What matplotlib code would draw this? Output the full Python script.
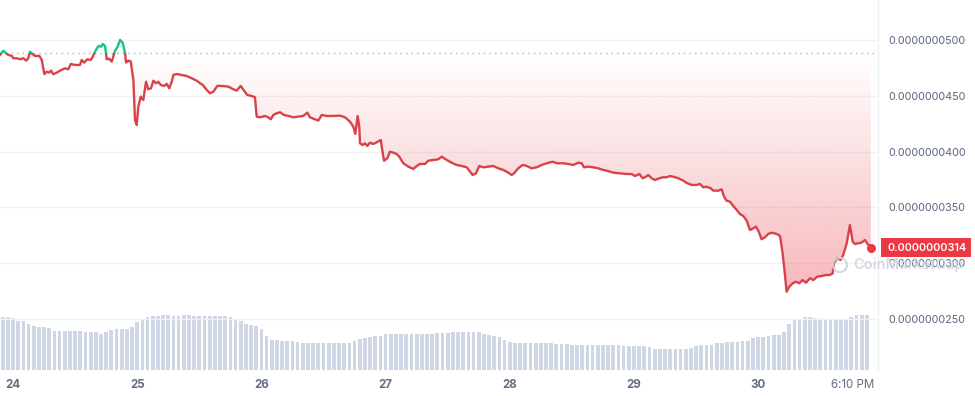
import numpy as np
import matplotlib
matplotlib.use("Agg")
import matplotlib.pyplot as plt
from matplotlib.path import Path
from matplotlib.patches import PathPatch, Rectangle, Circle
from matplotlib.colors import LinearSegmentedColormap
import matplotlib.transforms as mtransforms

# ---------------- data ----------------
# time in days since Apr 24 00:00 (local), price in units of 1e-9
time_days = [
    -0.105, -0.078, -0.056, -0.038, -0.010, 0.002, 0.030, 0.056, 0.083, 0.105,
    0.123, 0.137, 0.155, 0.177, 0.212, 0.231, 0.252, 0.271, 0.290, 0.306,
    0.324, 0.352, 0.378, 0.419, 0.445, 0.465, 0.499, 0.539, 0.553, 0.572,
    0.598, 0.626, 0.642, 0.660, 0.687, 0.709, 0.722, 0.741, 0.754, 0.773,
    0.795, 0.821, 0.840, 0.862, 0.883, 0.902, 0.910, 0.928, 0.948, 0.969,
    0.982, 0.996, 1.009, 1.028,
    1.049, 1.071, 1.089, 1.111, 1.130, 1.151, 1.170, 1.189, 1.216, 1.238,
    1.258, 1.278, 1.291, 1.318, 1.358, 1.399, 1.439, 1.479, 1.506, 1.527,
    1.560, 1.586, 1.613, 1.645, 1.680, 1.733, 1.774, 1.801, 1.833, 1.860,
    1.886, 1.922, 1.948, 1.962, 1.989, 2.029, 2.056, 2.075, 2.096, 2.123,
    2.150, 2.182, 2.217, 2.257, 2.297,
    2.337, 2.370, 2.391, 2.432, 2.458, 2.486, 2.526, 2.579, 2.633, 2.673,
    2.713, 2.740, 2.756, 2.775, 2.788, 2.794, 2.816, 2.834, 2.853, 2.874,
    2.901, 2.933, 2.961, 2.973, 2.987, 3.014, 3.035, 3.062, 3.089, 3.110,
    3.143, 3.183, 3.223, 3.250, 3.277, 3.317, 3.344, 3.384, 3.424, 3.452,
    3.492, 3.532, 3.572, 3.613, 3.653, 3.680, 3.701, 3.728, 3.754, 3.787,
    3.827, 3.867, 3.907, 3.948, 3.988, 4.015, 4.034, 4.068, 4.104, 4.136,
    4.176, 4.217, 4.257, 4.297, 4.345, 4.382, 4.431, 4.471, 4.511, 4.552,
    4.579, 4.597, 4.632, 4.672, 4.713,
    4.753, 4.780, 4.833, 4.887, 4.941, 4.981, 5.008, 5.043, 5.070, 5.097,
    5.115, 5.142, 5.169, 5.204, 5.236, 5.263, 5.290, 5.316, 5.357, 5.397,
    5.429, 5.465, 5.505, 5.531, 5.558, 5.585, 5.618, 5.639, 5.679, 5.706,
    5.725, 5.746, 5.773, 5.800, 5.827, 5.853, 5.880, 5.907,
    5.934, 5.961, 5.982, 6.001, 6.028, 6.055, 6.081, 6.109, 6.149, 6.176,
    6.197, 6.216, 6.229, 6.250, 6.278, 6.304, 6.331, 6.358, 6.385, 6.417,
    6.444, 6.476, 6.511, 6.546, 6.578, 6.600, 6.610, 6.637, 6.664, 6.685,
    6.713, 6.739, 6.761, 6.779, 6.806, 6.833, 6.860, 6.887, 6.908,
]

price_e9 = [
    48.66, 49.04, 48.81, 48.66, 48.57, 48.36, 48.36, 48.27, 48.36, 48.15,
    48.36, 48.95, 48.75, 48.57, 48.57, 48.21, 46.95, 47.16, 47.07, 47.25,
    46.93, 47.07, 47.25, 47.46, 47.37, 47.85, 47.76, 47.76, 48.21, 47.97,
    48.27, 48.21, 48.50, 48.95, 49.46, 49.40, 49.64, 49.46, 48.27, 48.32,
    48.06, 49.04, 49.35, 50.00, 49.76, 48.81, 47.97, 48.15, 48.06, 46.42,
    42.83, 42.38, 44.02, 44.92,
    44.62, 46.26, 45.58, 45.67, 46.35, 46.12, 46.26, 45.97, 45.88, 46.06,
    45.67, 46.26, 46.86, 46.95, 46.86, 46.77, 46.57, 46.35, 46.12, 45.97,
    45.52, 45.22, 45.37, 45.88, 45.88, 45.82, 45.58, 45.46, 45.88, 45.46,
    45.07, 44.98, 44.87, 43.13, 43.07, 43.19, 43.07, 42.89, 43.28, 43.43,
    43.52, 43.28, 43.19, 43.07, 43.13,
    43.19, 43.49, 43.07, 42.89, 42.77, 43.28, 43.19, 43.19, 43.22, 43.07,
    42.68, 42.23, 41.58, 43.19, 42.23, 40.74, 40.59, 40.74, 40.50, 40.80,
    40.68, 40.86, 41.04, 40.14, 39.18, 39.40, 39.99, 39.90, 39.78, 39.54,
    38.95, 38.65, 38.44, 38.71, 38.89, 38.89, 39.18, 39.25, 39.31, 39.54,
    39.25, 39.00, 38.80, 38.71, 38.59, 38.20, 37.90, 38.05, 38.71, 38.59,
    38.65, 38.71, 38.50, 38.35, 38.11, 37.90, 38.05, 38.50, 38.80, 38.71,
    38.50, 38.59, 38.80, 38.95, 39.09, 38.95, 38.95, 38.89, 38.80, 39.00,
    38.95, 38.59, 38.65, 38.59, 38.50,
    38.35, 38.29, 38.11, 38.05, 37.99, 37.99, 37.81, 37.99, 37.61, 37.75,
    37.90, 37.61, 37.45, 37.61, 37.70, 37.70, 37.81, 37.75, 37.61, 37.39,
    37.16, 37.01, 37.01, 37.10, 36.80, 36.85, 36.71, 36.50, 36.50, 36.62,
    35.96, 35.60, 35.51, 35.12, 34.77, 34.41, 34.23, 33.83,
    32.97, 33.13, 33.27, 32.91, 32.14, 32.32, 32.62, 32.73, 32.62, 32.44,
    30.89, 28.94, 27.44, 27.89, 28.20, 28.34, 28.20, 28.49, 28.25, 28.65,
    28.49, 28.79, 28.85, 28.94, 28.94, 29.09, 29.99, 30.44, 30.29, 30.73,
    31.78, 33.42, 31.93, 31.72, 31.78, 31.84, 32.08, 31.63, 31.40,
]

baseline_e9 = 48.8          # opening price of the period (dotted line)
last_price_label = "0.0000000314"

# hourly volume bars (arbitrary units), first bar at 22:00 on the 23rd
volume_first_hour = -2
volume = [
    53, 53, 52, 49, 49, 46, 44, 43, 43, 42,
    39, 39, 39, 39, 39, 39, 38, 38, 38, 36,
    38, 40, 41, 41, 41, 43, 48, 51, 53, 54,
    54, 55, 55, 54, 54, 55, 55, 54, 54, 54,
    54, 54, 54, 54, 53, 51, 49, 46, 45, 44,
    41, 34, 30, 30, 29, 29, 29, 28, 27, 27,
    27, 27, 27, 27, 27, 27, 27, 27, 29, 31,
    32, 33, 34, 34, 36, 36, 36, 36, 36, 36,
    36, 36, 36, 36, 37, 37, 37, 38, 38, 38,
    38, 38, 38, 36, 35, 34, 33, 30, 28, 27,
    27, 27, 27, 27, 27, 27, 27, 26, 26, 26,
    25, 25, 25, 25, 25, 25, 25, 25, 25, 25,
    24, 24, 24, 24, 24, 23, 21, 21, 21, 21,
    21, 21, 21, 22, 24, 25, 25, 25, 27, 27,
    28, 28, 28, 29, 29, 32, 33, 33, 34, 35,
    35, 38, 46, 50, 51, 53, 53, 52, 50, 50,
    50, 50, 50, 50, 53, 55, 55, 55,
]

price_ticks = [50, 45, 40, 35, 30, 25]
price_tick_labels = ["0.0000000500", "0.0000000450", "0.0000000400",
                     "0.0000000350", "0.0000000300", "0.0000000250"]
day_ticks = [0, 1, 2, 3, 4, 5, 6]
day_labels = ["24", "25", "26", "27", "28", "29", "30"]
end_tick = 6 + (18 + 10 / 60) / 24
end_label = "6:10 PM"

# ---------------- style ----------------
RED = "#ea3943"
LINE_RED = "#d8434b"
GREEN = "#16c784"
GRID = "#eff2f5"
LABEL = "#58667e"
VOLC = "#cfd6e4"
FONT = ["Inter", "DejaVu Sans"]
plt.rcParams["font.family"] = FONT
YFS = 7.8

W, H = 975, 396
fig = plt.figure(figsize=(W / 100, H / 100), dpi=100)
fig.patch.set_facecolor("white")

ax_rect = [0, 26 / H, 878 / W, 370 / H]
xlim = (-0.105, 6.965)
ylim = (20.43, 53.58)

# volume axes (behind)
axv = fig.add_axes([0, 26 / H, 878 / W, 70 / H])
axv.set_xlim(*xlim)
axv.set_ylim(0, 70)
tv = (np.arange(len(volume)) + volume_first_hour) / 24.0
axv.bar(tv, volume, width=0.030, color=VOLC, align="center", linewidth=0)
axv.axis("off")
axv.set_zorder(0)

ax = fig.add_axes(ax_rect)
ax.set_zorder(1)
ax.patch.set_alpha(0)
ax.set_xlim(*xlim)
ax.set_ylim(*ylim)

t = np.array(time_days)
p = np.array(price_e9)
grad = np.linspace(0, 1, 256).reshape(-1, 1)

# gradient fill below baseline (red): transparent at baseline, pink at the bottom
low = np.minimum(p, baseline_e9)
verts = np.concatenate([np.column_stack([t, low]),
                        np.column_stack([t[::-1], np.full(len(t), baseline_e9)])])
red_patch = PathPatch(Path(verts), facecolor="none", edgecolor="none")
ax.add_patch(red_patch)
cmap_r = LinearSegmentedColormap.from_list(
    "r", [(234 / 255, 57 / 255, 67 / 255, 0.36), (234 / 255, 57 / 255, 67 / 255, 0.0)])
im = ax.imshow(grad, cmap=cmap_r, aspect="auto",
               extent=[t[0], t[-1], p.min(), baseline_e9], origin="lower",
               zorder=1, interpolation="bicubic")
im.set_clip_path(red_patch)

# green gradient above baseline
high = np.maximum(p, baseline_e9)
verts_g = np.concatenate([np.column_stack([t, high]),
                          np.column_stack([t[::-1], np.full(len(t), baseline_e9)])])
g_patch = PathPatch(Path(verts_g), facecolor="none", edgecolor="none")
ax.add_patch(g_patch)
cmap_g = LinearSegmentedColormap.from_list(
    "g", [(22 / 255, 199 / 255, 132 / 255, 0.0), (22 / 255, 199 / 255, 132 / 255, 0.15)])
img = ax.imshow(grad, cmap=cmap_g, aspect="auto",
                extent=[t[0], t[-1], baseline_e9, p.max()], origin="lower",
                zorder=1, interpolation="bicubic")
img.set_clip_path(g_patch)

# grid lines
for yv in price_ticks:
    ax.axhline(yv, color=GRID, lw=1, zorder=0.5)

# dotted baseline
ax.axhline(baseline_e9, color="#a6b0c3", lw=1, ls=(0, (1, 3)), zorder=2)

# line, split by colour at the baseline
l_red, = ax.plot(t, p, color=LINE_RED, lw=1.7, zorder=3, solid_joinstyle="round")
clip_r = Rectangle((xlim[0], ylim[0]), xlim[1] - xlim[0], baseline_e9 - ylim[0],
                   transform=ax.transData)
l_red.set_clip_path(clip_r)
l_grn, = ax.plot(t, p, color=GREEN, lw=1.7, zorder=3, solid_joinstyle="round")
clip_g = Rectangle((xlim[0], baseline_e9), xlim[1] - xlim[0], ylim[1] - baseline_e9,
                   transform=ax.transData)
l_grn.set_clip_path(clip_g)

# end dot
ax.plot([t[-1]], [p[-1]], "o", color=RED, ms=6.5, zorder=4, mec="none")

# axes styling
for s in ["top", "left", "bottom"]:
    ax.spines[s].set_visible(False)
ax.spines["right"].set_color(GRID)
ax.spines["right"].set_linewidth(1)

ax.yaxis.tick_right()
ax.set_yticks(price_ticks)
ax.set_yticklabels(price_tick_labels)
ax.tick_params(axis="y", length=0, pad=7.5, labelsize=YFS, labelcolor=LABEL)

ax.set_xticks(day_ticks + [end_tick])
ax.set_xticklabels(day_labels + [end_label])
ax.tick_params(axis="x", length=0, pad=6.5, labelsize=8.3, labelcolor="#616e85")
for lab in ax.get_xticklabels()[:-1]:
    lab.set_fontweight("bold")

# price tag
bt = mtransforms.blended_transform_factory(fig.transFigure, ax.transData)
tag_h = 19 * (ylim[1] - ylim[0]) / 370
fig.patches.append(Rectangle((881 / W, p[-1] - tag_h / 2), 90 / W, tag_h,
                             transform=bt, facecolor=RED, edgecolor="none",
                             zorder=10))
fig.text(887 / W, p[-1], last_price_label, transform=bt, color="white",
         fontsize=YFS, fontweight="semibold", va="center", ha="left", zorder=11)

# watermark
fig.patches.append(Circle((8.40, (H - 265) / 100), 0.07, fill=False,
                          edgecolor="#cfd5df", lw=1.6,
                          transform=fig.dpi_scale_trans, alpha=0.9))
fig.text(853 / W, (H - 265) / H, "CoinMarketCap", color="#cfd5df", alpha=0.9,
         fontsize=10.5, fontweight="semibold", va="center", ha="left", zorder=1)

fig.savefig("out.png", dpi=100, facecolor="white")
